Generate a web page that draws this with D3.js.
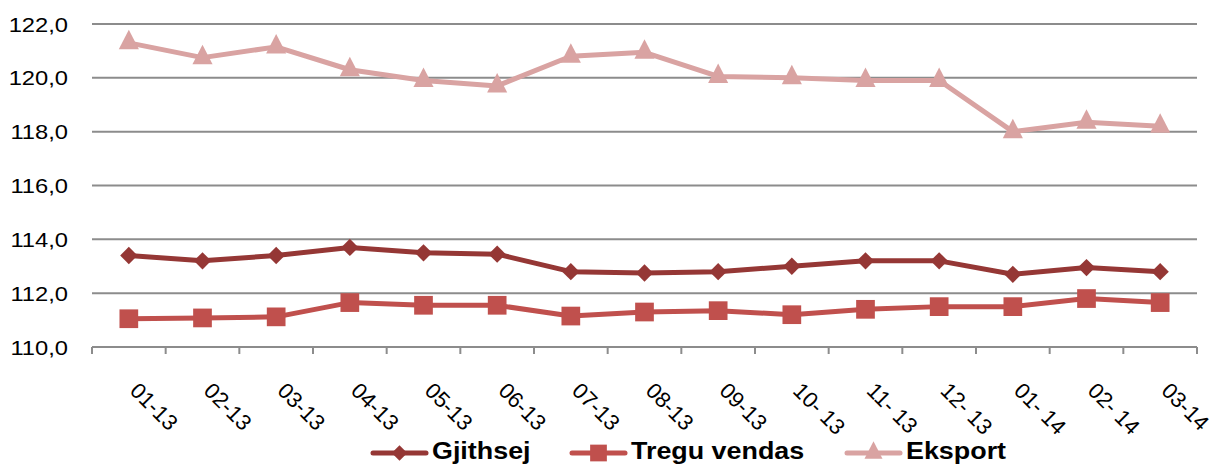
<!DOCTYPE html>
<html>
<head>
<meta charset="utf-8">
<script src="https://cdn.jsdelivr.net/npm/d3@7"></script>
<style>
  body { margin: 0; background: #fff; overflow: hidden; }
  text { font-family: "Liberation Sans", Arial, sans-serif; fill: #000; }
</style>
</head>
<body>
<div id="content"></div>
<script>
const months = ["01-13","02-13","03-13","04-13","05-13","06-13","07-13","08-13","09-13","10- 13","11- 13","12- 13","01- 14","02- 14","03-14"];
const gjithsej = [113.4,113.2,113.4,113.7,113.5,113.45,112.8,112.75,112.8,113.0,113.2,113.2,112.7,112.95,112.8];
const treguVendas = [111.05,111.08,111.12,111.65,111.55,111.55,111.15,111.3,111.35,111.2,111.4,111.5,111.5,111.8,111.65];
const eksport = [121.3,120.75,121.15,120.3,119.9,119.7,120.8,120.95,120.05,120.0,119.9,119.9,118.0,118.35,118.2];
const yTicks = [110,112,114,116,118,120,122];

const w = 1214, h = 464;
const plotLeft = 92, plotRight = 1197, plotTop = 24, plotBottom = 347;

const svg = d3.select("#content").append("svg").attr("width", w).attr("height", h);

let xScale = d3.scaleBand().domain(months).range([plotLeft, plotRight]);
let yScale = d3.scaleLinear().domain([110, 122]).range([plotBottom, plotTop]);
const cx = d => xScale(d) + xScale.bandwidth() / 2;

// gridlines
svg.append("g").selectAll("line").data(yTicks.slice(1)).enter().append("line")
  .attr("x1", plotLeft).attr("x2", plotRight)
  .attr("y1", d => yScale(d)).attr("y2", d => yScale(d))
  .attr("stroke", "#8c8c8c").attr("stroke-width", 2);

// y labels (slightly wide, like the original)
svg.append("g").selectAll("text").data(yTicks).enter().append("text")
  .attr("transform", d => `translate(68,${yScale(d)}) scale(1.13,1)`)
  .attr("dy", "0.36em")
  .attr("text-anchor", "end").style("font-size", "21px")
  .text(d => d.toFixed(1).replace(".", ","));

// x axis
svg.append("line").attr("x1", plotLeft).attr("x2", plotRight).attr("y1", plotBottom).attr("y2", plotBottom)
  .attr("stroke", "#8c8c8c").attr("stroke-width", 2);
const edges = months.map(m => xScale(m)).concat([plotRight]);
svg.append("g").selectAll("line").data(edges).enter().append("line")
  .attr("x1", d => d).attr("x2", d => d).attr("y1", plotBottom).attr("y2", plotBottom + 7)
  .attr("stroke", "#8c8c8c").attr("stroke-width", 2);

svg.append("g").selectAll("text").data(months).enter().append("text")
  .attr("transform", d => `translate(${cx(d)},${plotBottom + 45}) rotate(45)`)
  .style("font-size", "22px")
  .text(d => d);

// series
const series = [
  { name: "Gjithsej", values: gjithsej, color: "#953735", symbol: d3.symbolSquare, size: 150, rot: " rotate(45)" },
  { name: "Tregu vendas", values: treguVendas, color: "#c0504d", symbol: d3.symbolSquare, size: 350, rot: "" },
  { name: "Eksport", values: eksport, color: "#d9a3a2", symbol: d3.symbolTriangle, size: 175, rot: " scale(1,1.12)" }
];

const line = d3.line().x((d, i) => cx(months[i])).y(d => yScale(d));

series.forEach(s => {
  svg.append("path").datum(s.values).attr("d", line)
    .attr("fill", "none").attr("stroke", s.color).attr("stroke-width", 5)
    .attr("stroke-linejoin", "round");
  const sym = d3.symbol().type(s.symbol).size(s.size);
  svg.append("g").selectAll("path").data(s.values).enter().append("path")
    .attr("d", sym)
    .attr("transform", (d, i) => `translate(${cx(months[i])},${yScale(d)})${s.rot}`)
    .attr("fill", s.color);
});

// legend
const legendX = [373, 572, 847];
let legend = svg.append("g").selectAll("g").data(series).enter().append("g")
  .attr("transform", (d, i) => `translate(${legendX[i]},453)`);
legend.append("line").attr("x1", 0).attr("x2", 53).attr("y1", 0).attr("y2", 0)
  .attr("stroke", d => d.color).attr("stroke-width", 5).attr("stroke-linecap", "round");
legend.append("path")
  .attr("d", d => d3.symbol().type(d.symbol).size(d.size * 0.8)())
  .attr("transform", d => `translate(26.5,0)${d.rot}`)
  .attr("fill", d => d.color);
legend.append("text")
  .attr("transform", "translate(59,6) scale(1.12,1)")
  .style("font-size", "24px").style("font-weight", "bold")
  .text(d => d.name);
</script>
</body>
</html>
